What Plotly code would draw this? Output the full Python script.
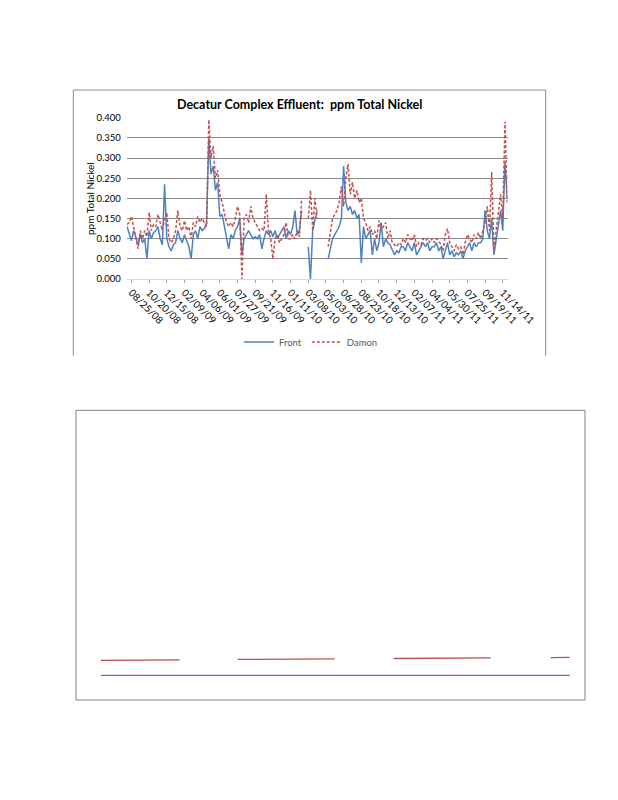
import datetime as dt
import plotly.graph_objects as go

# ---------------- data ----------------
start_date = dt.date(2008, 8, 11)
n_points = 173
dates = [start_date + dt.timedelta(days=7 * k) for k in range(n_points)]

front = [0.13,
    0.11, 0.095, 0.12, 0.10, 0.085, 0.11, 0.09, 0.10, 0.05, 0.12,
    0.10, 0.115, 0.12, 0.13, 0.10, 0.085, 0.235, 0.10, 0.08, 0.07,
    0.085, 0.09, 0.12, 0.10, 0.09, 0.11, 0.095, 0.08, 0.05, 0.11,
    0.12, 0.10, 0.13, 0.12, 0.125, 0.14,
    0.35, 0.26, 0.28, 0.22, 0.24, 0.155, 0.16, 0.13, 0.11, 0.075,
    0.11, 0.10, 0.12, 0.13, 0.15, 0.06, 0.10, 0.11, 0.12, 0.11,
    0.10, 0.105, 0.10, 0.11, 0.075, 0.10, 0.12, 0.11, 0.12, 0.105,
    0.12, 0.10, 0.11, 0.12, 0.13, 0.10, 0.12, 0.11, 0.13, 0.17,
    0.11, 0.12, 0.17,
    None, None,
    0.08, 0.0, 0.12, 0.15, 0.17,
    None, None, None, None,
    0.05, 0.08, 0.10, 0.11, 0.12, 0.13, 0.15, 0.28, 0.19, 0.17,
    0.18, 0.16, 0.17, 0.15, 0.16, 0.04, 0.13, 0.10, 0.11, 0.12,
    0.06, 0.10, 0.07, 0.09, 0.14, 0.08, 0.10, 0.09, 0.085, 0.07,
    0.06, 0.07, 0.065, 0.08, 0.08, 0.07, 0.09, 0.08, 0.07, 0.09,
    0.06, 0.07, 0.08, 0.09, 0.08, 0.09, 0.07, 0.08, 0.08, 0.09,
    0.07, 0.08, 0.05, 0.07, 0.09, 0.06, 0.07, 0.055, 0.065, 0.06,
    0.07, 0.05, 0.07, 0.08, 0.09, 0.07, 0.09, 0.08, 0.09, 0.09,
    0.10, 0.17, 0.12, 0.10, 0.15, 0.06, 0.10, 0.13, 0.17, 0.12,
    0.29, 0.20]

damon = [0.135,
    0.14, 0.155, 0.13, 0.10, 0.075, 0.12, 0.10, 0.12, 0.105, 0.165,
    0.12, 0.135, 0.13, 0.16, 0.14, 0.12, 0.15, 0.165, 0.10, 0.09,
    0.10, 0.12, 0.17, 0.13, 0.12, 0.145, 0.12, 0.13, 0.10, 0.14,
    0.13, 0.155, 0.14, 0.15, 0.14, 0.13,
    0.395, 0.30, 0.33, 0.25, 0.27, 0.21, 0.19, 0.16, 0.14, 0.13,
    0.14, 0.13, 0.15, 0.18, 0.16, 0.0, 0.15, 0.16, 0.14, 0.18,
    0.15, 0.14, 0.13, 0.12, 0.125, 0.12, 0.21, 0.12, 0.10, 0.05,
    0.10, 0.11, 0.09, 0.10, 0.11, 0.14, 0.10, 0.10, 0.11, 0.10,
    0.12, 0.105, 0.20,
    None, None,
    0.15, 0.22, 0.12, 0.20, 0.15,
    None, None, None, None,
    0.08, 0.12, 0.15, 0.16, 0.17, 0.19, 0.23, 0.18, 0.25, 0.285,
    0.21, 0.24, 0.20, 0.22, 0.19, 0.20, 0.15, 0.14, 0.12, 0.13,
    0.11, 0.12, 0.10, 0.145, 0.12, 0.13, 0.14, 0.10, 0.12, 0.09,
    0.085, 0.08, 0.09, 0.085, 0.10, 0.09, 0.11, 0.10, 0.095, 0.11,
    0.08, 0.09, 0.085, 0.10, 0.095, 0.10, 0.09, 0.10, 0.09, 0.10,
    0.095, 0.085, 0.07, 0.11, 0.125, 0.09, 0.08, 0.07, 0.085, 0.075,
    0.08, 0.06, 0.09, 0.11, 0.10, 0.09, 0.11, 0.10, 0.115, 0.10,
    0.12, 0.14, 0.18, 0.12, 0.265, 0.07, 0.12, 0.16, 0.21, 0.15,
    0.39, 0.19]

series_names = ["Front", "Damon"]
title_text = "Decatur Complex Effluent:  ppm Total Nickel"
y_title = "ppm Total Nickel"
y_ticks = [0.0, 0.05, 0.10, 0.15, 0.20, 0.25, 0.30, 0.35, 0.40]
x_tick0 = "2008-08-25"
x_tick_step_days = 56

# lower (second) chart: two flat levels
lower_dates = ["2008-08-25", "2011-12-05"]
lower_front = [0.85, 0.85]
lower_damon = [1.37, 1.47]

# ---------------- figure ----------------
W, H = 618, 800
def px(x):
    return x / W
def py(y):
    return 1 - y / H

BLUE = "#4F81BD"
RED = "#C0504D"
FONT = "Lato"

fig = go.Figure()
fig.add_trace(go.Scatter(x=dates, y=front, name=series_names[0], mode="lines",
                         line=dict(color=BLUE, width=1.5), connectgaps=False))
fig.add_trace(go.Scatter(x=dates, y=damon, name=series_names[1], mode="lines",
                         line=dict(color=RED, width=1.5, dash="3px,2px"), connectgaps=False))

fig.add_trace(go.Scatter(x=lower_dates, y=lower_front, mode="lines", showlegend=False,
                         xaxis="x2", yaxis="y2", line=dict(color=BLUE, width=1.3)))
fig.add_trace(go.Scatter(x=lower_dates, y=lower_damon, mode="lines", showlegend=False,
                         xaxis="x2", yaxis="y2",
                         line=dict(color=RED, width=1.3,
                                   dash="79px,58px,97px,59px,97px,60px,19px,200px")))

fig.update_layout(
    template="none",
    width=W, height=H, autosize=False,
    margin=dict(l=0, r=0, t=0, b=0, pad=0, autoexpand=False),
    paper_bgcolor="white", plot_bgcolor="white",
    font=dict(family=FONT, color="#000000"),
    showlegend=True,
    legend=dict(orientation="h", x=px(311), y=py(342), xanchor="center", yanchor="middle",
                font=dict(size=9.5, color="#595959", family=FONT), itemwidth=30,
                bgcolor="rgba(0,0,0,0)", borderwidth=0, tracegroupgap=0),
    xaxis=dict(domain=[px(126.7), px(507.5)], anchor="y", automargin=False,
               type="date", range=["2008-08-10", "2011-11-29"],
               tick0=x_tick0, dtick=x_tick_step_days * 86400000, tickformat="%m/%d/%y",
               tickangle=45, tickfont=dict(size=10, color="#000000"),
               showgrid=False, showline=True, linecolor="#d9d9d9", linewidth=1,
               ticks="outside", ticklen=3, tickcolor="#a6a6a6", zeroline=False),
    yaxis=dict(domain=[py(279), py(117.7)], anchor="x", automargin=False,
               range=[0, 0.4], tickvals=y_ticks, tickformat=".3f",
               tickfont=dict(size=9.5, color="#000000"),
               showgrid=True, gridcolor="#8c8c8c", gridwidth=1,
               zeroline=False, showline=False, ticks="", ticklabelstandoff=5),
    xaxis2=dict(domain=[px(100.7), px(570)], anchor="y2", type="date", automargin=False,
                range=lower_dates, visible=False),
    yaxis2=dict(domain=[py(700), py(410.3)], anchor="x2", range=[0, 10], visible=False,
                automargin=False),
    annotations=[
        dict(text="<b>" + title_text + "</b>", x=px(299), y=py(105), xref="paper", yref="paper",
             showarrow=False, font=dict(size=12.5, family=FONT, color="#000000"),
             xanchor="center", yanchor="middle"),
        dict(text=y_title, x=px(90), y=py(199), xref="paper", yref="paper",
             showarrow=False, textangle=-90, font=dict(size=10, family=FONT, color="#000000"),
             xanchor="center", yanchor="middle"),
    ],
    shapes=[
        # outer chart frame (open at bottom)
        dict(type="line", xref="paper", yref="paper", x0=px(73.3), x1=px(73.3), y0=py(90), y1=py(356),
             line=dict(color="#8c8c8c", width=1)),
        dict(type="line", xref="paper", yref="paper", x0=px(73.3), x1=px(545.7), y0=py(90), y1=py(90),
             line=dict(color="#8c8c8c", width=1)),
        dict(type="line", xref="paper", yref="paper", x0=px(545.7), x1=px(545.7), y0=py(90), y1=py(356),
             line=dict(color="#8c8c8c", width=1)),
        # lower box
        dict(type="rect", xref="paper", yref="paper", x0=px(76), x1=px(585), y0=py(700), y1=py(410.3),
             line=dict(color="#808080", width=1)),
    ],
)

fig.write_html("out.html", config={"responsive": False, "displayModeBar": False},
               post_script="document.body.style.margin='0';document.body.style.overflow='hidden';")
